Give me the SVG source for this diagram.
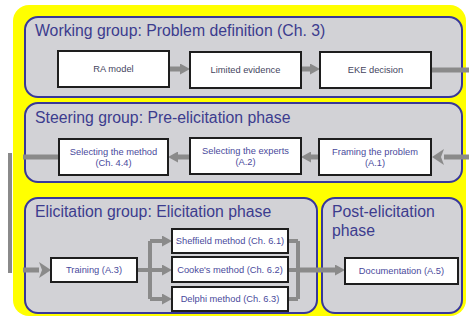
<svg xmlns="http://www.w3.org/2000/svg" width="469" height="322" viewBox="0 0 469 322">
  <defs>
    <style>
      .panel { fill: #d2d2d6; stroke: #38389a; stroke-width: 2; }
      .box { fill: #ffffff; stroke: #1e1e1e; stroke-width: 2; }
      .title { font-family: "Liberation Sans", Arial, sans-serif; font-size: 15.8px; fill: #3c3c8e; }
      .lbl { font-family: "Liberation Sans", Arial, sans-serif; font-size: 9.3px; fill: #4a4a9c; text-anchor: middle; }
      .lbl1 { font-family: "Liberation Sans", Arial, sans-serif; font-size: 9.3px; fill: #45455e; text-anchor: middle; }
      .flow { fill: none; stroke: #8a8a8a; stroke-width: 5; }
      .flow2 { fill: none; stroke: #8a8a8a; stroke-width: 4; }
    </style>
    <marker id="head" markerUnits="userSpaceOnUse" markerWidth="10" markerHeight="11" refX="0" refY="5.5" orient="auto">
      <path d="M0,0 L10,5.5 L0,11 Z" fill="#8a8a8a"/>
    </marker>
    <marker id="headBig" markerUnits="userSpaceOnUse" markerWidth="12" markerHeight="16" refX="0" refY="8" orient="auto">
      <path d="M0,0 L12,8 L0,16 L3,8 Z" fill="#8a8a8a"/>
    </marker>
  </defs>

  <!-- page background and highlight -->
  <rect x="0" y="0" width="469" height="322" fill="#ffffff"/>
  <rect x="13" y="5" width="453" height="311" rx="16" fill="#ffff00"/>

  <!-- group panels -->
  <g id="working-group">
    <rect class="panel" x="25" y="17" width="437" height="80" rx="13"/>
    <text class="title" x="35" y="36">Working group: Problem definition (Ch. 3)</text>
  </g>
  <g id="steering-group">
    <rect class="panel" x="25" y="103" width="437" height="79" rx="13"/>
    <text class="title" x="35" y="123">Steering group: Pre-elicitation phase</text>
  </g>
  <g id="elicitation-group">
    <rect class="panel" x="25" y="198" width="292" height="115" rx="13"/>
    <text class="title" x="35" y="217">Elicitation group: Elicitation phase</text>
  </g>
  <g id="post-elicitation">
    <rect class="panel" x="322" y="198" width="140" height="115" rx="13"/>
    <text class="title" x="332" y="217">Post-elicitation</text>
    <text class="title" x="332" y="236">phase</text>
  </g>

  <!-- connectors -->
  <g id="connectors">
    <!-- problem definition row -->
    <path class="flow" d="M169,69 H180" marker-end="url(#head)"/>
    <path class="flow" d="M301,69 H310" marker-end="url(#head)"/>
    <path class="flow" d="M431,70 H469"/>
    <!-- pre-elicitation row (right to left) -->
    <path class="flow" d="M469,157 H444" marker-end="url(#headBig)"/>
    <path class="flow" d="M319,157 H311" marker-end="url(#head)"/>
    <path class="flow" d="M190,157 H178" marker-end="url(#head)"/>
    <path class="flow" d="M59,157 H23"/>
    <!-- return path down the left side -->
    <rect x="8" y="153" width="4" height="120" fill="#8a8a8a"/>
    <path class="flow" d="M23,270 H39" marker-end="url(#headBig)"/>
    <!-- training fans out to the three methods -->
    <path class="flow2" d="M137,270 H150 M150,241 V299"/>
    <path class="flow2" d="M150,241 H162" marker-end="url(#head)"/>
    <path class="flow2" d="M150,270 H162" marker-end="url(#head)"/>
    <path class="flow2" d="M150,299 H162" marker-end="url(#head)"/>
    <!-- methods merge into documentation -->
    <path class="flow2" d="M288,241 H298 M288,270 H298 M288,299 H298 M298,241 V299"/>
    <path class="flow" d="M298,270 H335" marker-end="url(#head)"/>
  </g>

  <!-- problem definition steps -->
  <g id="ra-model">
    <rect class="box" x="58" y="51" width="111" height="36"/>
    <text class="lbl1" x="113.5" y="72">RA model</text>
  </g>
  <g id="limited-evidence">
    <rect class="box" x="190" y="52" width="111" height="36"/>
    <text class="lbl1" x="245.5" y="73">Limited evidence</text>
  </g>
  <g id="eke-decision">
    <rect class="box" x="320" y="52" width="111" height="36"/>
    <text class="lbl1" x="375.5" y="73">EKE decision</text>
  </g>

  <!-- pre-elicitation steps -->
  <g id="selecting-method">
    <rect class="box" x="59" y="139" width="109" height="36"/>
    <text class="lbl" x="113.5" y="155">Selecting the method</text>
    <text class="lbl" x="113.5" y="166">(Ch. 4.4)</text>
  </g>
  <g id="selecting-experts">
    <rect class="box" x="190" y="138" width="111" height="36"/>
    <text class="lbl" x="245.5" y="154">Selecting the experts</text>
    <text class="lbl" x="245.5" y="165">(A.2)</text>
  </g>
  <g id="framing-problem">
    <rect class="box" x="319" y="139" width="112" height="36"/>
    <text class="lbl" x="375" y="155">Framing the problem</text>
    <text class="lbl" x="375" y="166">(A.1)</text>
  </g>

  <!-- elicitation steps -->
  <g id="training">
    <rect class="box" x="51" y="258" width="86" height="24"/>
    <text class="lbl" x="94" y="273">Training (A.3)</text>
  </g>
  <g id="sheffield">
    <rect class="box" x="172" y="229" width="116" height="24"/>
    <text class="lbl" x="230" y="244" font-size="8">Sheffield method (Ch. 6.1)</text>
  </g>
  <g id="cooke">
    <rect class="box" x="172" y="257" width="116" height="25"/>
    <text class="lbl" x="230" y="272.5" font-size="8">Cooke's method (Ch. 6.2)</text>
  </g>
  <g id="delphi">
    <rect class="box" x="172" y="287" width="116" height="24"/>
    <text class="lbl" x="230" y="302" font-size="8">Delphi method (Ch. 6.3)</text>
  </g>

  <!-- post-elicitation step -->
  <g id="documentation">
    <rect class="box" x="345" y="258" width="113" height="26"/>
    <text class="lbl" x="401.5" y="274">Documentation (A.5)</text>
  </g>
</svg>
